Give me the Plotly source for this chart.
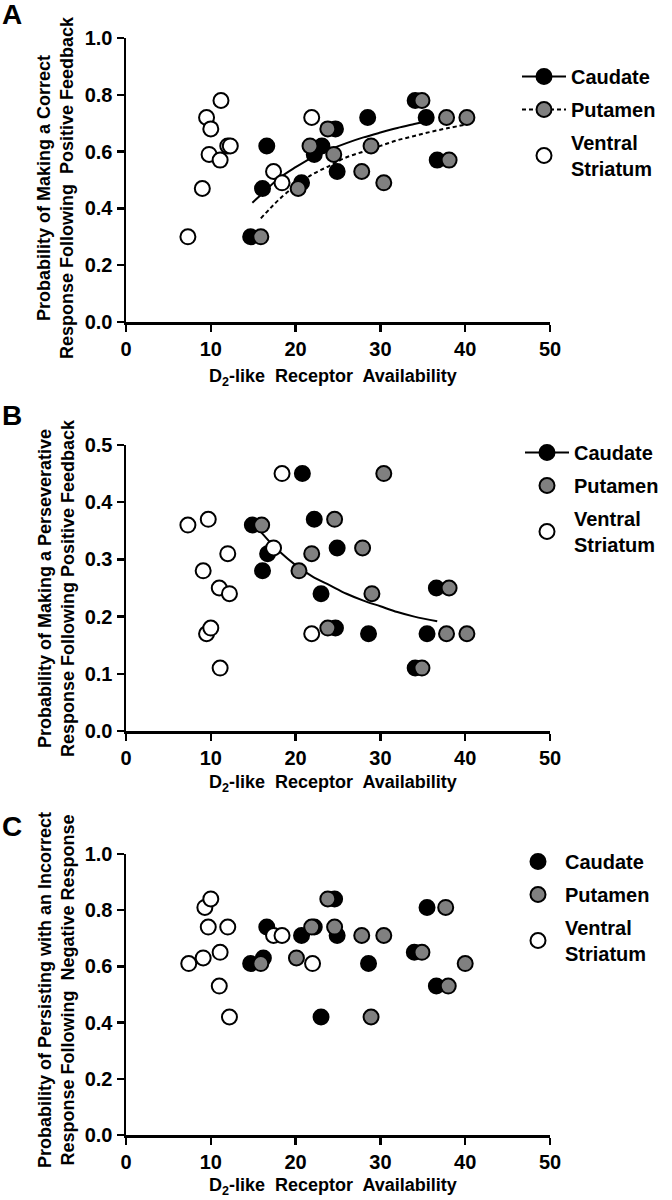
import plotly.graph_objects as go

# ---------------- data ----------------
# Panel A: correct response following positive feedback
caud_x_A = [14.7, 16.1, 16.6, 20.7, 22.2, 23.1, 24.7, 24.9, 28.5, 34.1, 35.4, 36.7]
caud_y_A = [0.30, 0.47, 0.62, 0.49, 0.59, 0.62, 0.68, 0.53, 0.72, 0.78, 0.72, 0.57]
put_x_A = [15.9, 20.3, 21.7, 23.8, 24.5, 27.8, 28.9, 30.4, 34.9, 37.8, 38.1, 40.2]
put_y_A = [0.30, 0.47, 0.62, 0.68, 0.59, 0.53, 0.62, 0.49, 0.78, 0.72, 0.57, 0.72]
vs_x_A = [7.3, 9.5, 10.0, 9.8, 9.0, 11.2, 11.1, 12.0, 12.3, 17.4, 18.4, 21.9]
vs_y_A = [0.30, 0.72, 0.68, 0.59, 0.47, 0.78, 0.57, 0.62, 0.62, 0.53, 0.49, 0.72]
fitc_x_A = [14.9, 16, 18, 20, 22, 24, 26, 28, 30, 32, 34, 35.6]
fitc_y_A = [0.42, 0.45, 0.505, 0.545, 0.58, 0.607, 0.63, 0.65, 0.667, 0.683, 0.697, 0.708]
fitp_x_A = [15.9, 17, 18, 20, 22, 24, 26, 28, 30, 32, 34, 36, 38, 40.1]
fitp_y_A = [0.365, 0.40, 0.43, 0.48, 0.52, 0.55, 0.58, 0.60, 0.62, 0.64, 0.655, 0.67, 0.683, 0.695]

# Panel B: perseverative response following positive feedback
caud_x_B = [14.9, 16.1, 16.7, 20.8, 22.2, 23.0, 24.7, 24.9, 28.6, 34.1, 35.5, 36.6]
caud_y_B = [0.36, 0.28, 0.31, 0.45, 0.37, 0.24, 0.18, 0.32, 0.17, 0.11, 0.17, 0.25]
put_x_B = [16.0, 20.4, 21.9, 23.8, 24.6, 27.9, 29.0, 30.4, 34.9, 37.8, 38.1, 40.2]
put_y_B = [0.36, 0.28, 0.31, 0.18, 0.37, 0.32, 0.24, 0.45, 0.11, 0.17, 0.25, 0.17]
vs_x_B = [7.3, 9.1, 9.5, 10.0, 9.7, 11.1, 11.0, 12.2, 12.0, 17.4, 18.4, 21.9]
vs_y_B = [0.36, 0.28, 0.17, 0.18, 0.37, 0.11, 0.25, 0.24, 0.31, 0.32, 0.45, 0.17]
fitc_x_B = [15.8, 17, 18, 20, 22, 24, 26, 28, 30, 32, 34, 36.7]
fitc_y_B = [0.35, 0.33, 0.315, 0.29, 0.27, 0.255, 0.24, 0.228, 0.218, 0.208, 0.20, 0.192]

# Panel C: persisting with an incorrect response following negative response
caud_x_C = [14.7, 16.2, 16.6, 20.7, 22.2, 23.0, 24.6, 24.9, 28.6, 34.0, 35.5, 36.6]
caud_y_C = [0.61, 0.63, 0.74, 0.71, 0.74, 0.42, 0.84, 0.71, 0.61, 0.65, 0.81, 0.53]
put_x_C = [15.9, 20.1, 21.9, 23.8, 24.6, 27.8, 28.9, 30.4, 34.9, 37.7, 38.0, 40.0]
put_y_C = [0.61, 0.63, 0.74, 0.84, 0.74, 0.71, 0.42, 0.71, 0.65, 0.81, 0.53, 0.61]
vs_x_C = [7.4, 9.1, 9.3, 10.0, 9.7, 11.1, 11.0, 12.0, 12.2, 17.4, 18.4, 22.0]
vs_y_C = [0.61, 0.63, 0.81, 0.84, 0.74, 0.65, 0.53, 0.74, 0.42, 0.71, 0.71, 0.61]

x_ticks = [0, 10, 20, 30, 40, 50]
y_ticks_A = [0.0, 0.2, 0.4, 0.6, 0.8, 1.0]
y_ticks_B = [0.0, 0.1, 0.2, 0.3, 0.4, 0.5]
y_ticks_C = [0.0, 0.2, 0.4, 0.6, 0.8, 1.0]

ytitle_A = "Probability of Making a Correct<br>Response Following  Positive Feedback"
ytitle_B = "Probability of Making a Perseverative<br>Response Following Positive Feedback"
ytitle_C = "Probability of Persisting with an Incorrect<br>Response Following  Negative Response"
xtitle = "D<sub>2</sub>-like  Receptor  Availability"
names = ["Caudate", "Putamen", "Ventral<br>Striatum"]

# ---------------- style ----------------
FONT = "Arial, 'Liberation Sans', sans-serif"
W, H = 672, 1200
BLACK = "#000000"
GRAY = "#808080"
MS = 15
OUT = dict(color=BLACK, width=2)

fig = go.Figure()

def pts(x, y, fill, xa, ya, leg):
    fig.add_trace(go.Scatter(x=x, y=y, mode="markers", xaxis=xa, yaxis=ya,
                             marker=dict(size=MS, color=fill, line=OUT),
                             showlegend=False, legend=leg, cliponaxis=False))

def line(x, y, dash, xa, ya, leg):
    fig.add_trace(go.Scatter(x=x, y=y, mode="lines", xaxis=xa, yaxis=ya,
                             line=dict(color=BLACK, width=2, dash=dash, shape="spline"),
                             showlegend=False, legend=leg))

def legend_item(name, fill, leg, with_line, dash, grp):
    fig.add_trace(go.Scatter(x=[None], y=[None], name=name,
                             mode="lines+markers" if with_line else "markers",
                             marker=dict(size=MS, color=fill, line=OUT),
                             line=dict(color=BLACK, width=2, dash=dash),
                             legend=leg, legendgroup=grp, showlegend=True,
                             xaxis="x", yaxis="y"))

# Panel A
line(fitc_x_A, fitc_y_A, "solid", "x", "y", "legend")
line(fitp_x_A, fitp_y_A, "4px,3px", "x", "y", "legend")
pts(caud_x_A, caud_y_A, BLACK, "x", "y", "legend")
pts(put_x_A, put_y_A, GRAY, "x", "y", "legend")
pts(vs_x_A, vs_y_A, "white", "x", "y", "legend")
legend_item(names[0], BLACK, "legend", True, "solid", "a1")
legend_item(names[1], GRAY, "legend", True, "4px,3px", "a2")
legend_item(names[2], "white", "legend", False, "solid", "a3")

# Panel B
line(fitc_x_B, fitc_y_B, "solid", "x2", "y2", "legend2")
pts(caud_x_B, caud_y_B, BLACK, "x2", "y2", "legend2")
pts(put_x_B, put_y_B, GRAY, "x2", "y2", "legend2")
pts(vs_x_B, vs_y_B, "white", "x2", "y2", "legend2")
legend_item(names[0], BLACK, "legend2", True, "solid", "b1")
legend_item(names[1], GRAY, "legend2", False, "solid", "b2")
legend_item(names[2], "white", "legend2", False, "solid", "b3")

# Panel C
pts(caud_x_C, caud_y_C, BLACK, "x3", "y3", "legend3")
pts(put_x_C, put_y_C, GRAY, "x3", "y3", "legend3")
pts(vs_x_C, vs_y_C, "white", "x3", "y3", "legend3")
legend_item(names[0], BLACK, "legend3", False, "solid", "c1")
legend_item(names[1], GRAY, "legend3", False, "solid", "c2")
legend_item(names[2], "white", "legend3", False, "solid", "c3")

tickfont = dict(family=FONT, size=20, color=BLACK, weight="bold")
xdom = [126 / W, 550 / W]

def xax(anchor):
    return dict(domain=xdom, range=[0, 50], tickvals=x_ticks, ticks="outside",
                ticklen=7, tickwidth=2.5, tickcolor=BLACK, showline=True,
                linewidth=2.5, linecolor=BLACK, showgrid=False, zeroline=False,
                tickfont=tickfont, anchor=anchor, fixedrange=True, automargin=False)

def yax(dom, rng, tv, anchor):
    return dict(domain=dom, range=rng, tickvals=tv, tickformat=".1f", ticks="outside",
                ticklen=7, tickwidth=2.5, tickcolor=BLACK, showline=True,
                linewidth=2.5, linecolor=BLACK, showgrid=False, zeroline=False,
                tickfont=tickfont, anchor=anchor, fixedrange=True, automargin=False)

def ydom(top_px, bot_px):
    return [(H - bot_px) / H, (H - top_px) / H]

legfont = dict(family=FONT, size=20, color=BLACK, weight="bold")

def leg(x_px, y_px):
    return dict(x=x_px / W, y=(H - y_px) / H, xanchor="left", yanchor="top",
                font=legfont, bgcolor="rgba(0,0,0,0)", traceorder="grouped",
                tracegroupgap=4, itemwidth=44)

fig.update_layout(
    width=W, height=H, paper_bgcolor="white", plot_bgcolor="white",
    margin=dict(l=0, r=0, t=0, b=0, autoexpand=False),
    font=dict(family=FONT, color=BLACK),
    xaxis=xax("y"), yaxis=yax(ydom(38, 322), [0, 1.0], y_ticks_A, "x"),
    xaxis2=xax("y2"), yaxis2=yax(ydom(445, 731), [0, 0.5], y_ticks_B, "x2"),
    xaxis3=xax("y3"), yaxis3=yax(ydom(854, 1135), [0, 1.0], y_ticks_C, "x3"),
    legend=leg(517, 57), legend2=leg(520, 433), legend3=leg(511, 842),
)

titlefont = dict(family=FONT, size=18, color=BLACK, weight="bold")
letterfont = dict(family=FONT, size=28, color=BLACK, weight="bold")
annots = []
for ytxt, cy, xy, lt, ly in [(ytitle_A, 188, 377, "A", 15),
                             (ytitle_B, 588, 783, "B", 415),
                             (ytitle_C, 990, 1186, "C", 826)]:
    annots.append(dict(text=ytxt, x=56 / W, y=(H - cy) / H, xref="paper", yref="paper",
                       xanchor="center", yanchor="middle", textangle=-90,
                       showarrow=False, font=titlefont))
    annots.append(dict(text=xtitle, x=333 / W, y=(H - xy) / H, xref="paper", yref="paper",
                       xanchor="center", yanchor="middle", showarrow=False, font=titlefont))
    annots.append(dict(text=lt, x=12 / W, y=(H - ly) / H, xref="paper", yref="paper",
                       xanchor="center", yanchor="middle", showarrow=False, font=letterfont))
fig.update_layout(annotations=annots)

fig.write_html("out.html",
               config={"displayModeBar": False, "staticPlot": True},
               post_script="document.documentElement.style.margin='0';"
                           "document.body.style.margin='0';"
                           "document.body.style.overflow='hidden';")
